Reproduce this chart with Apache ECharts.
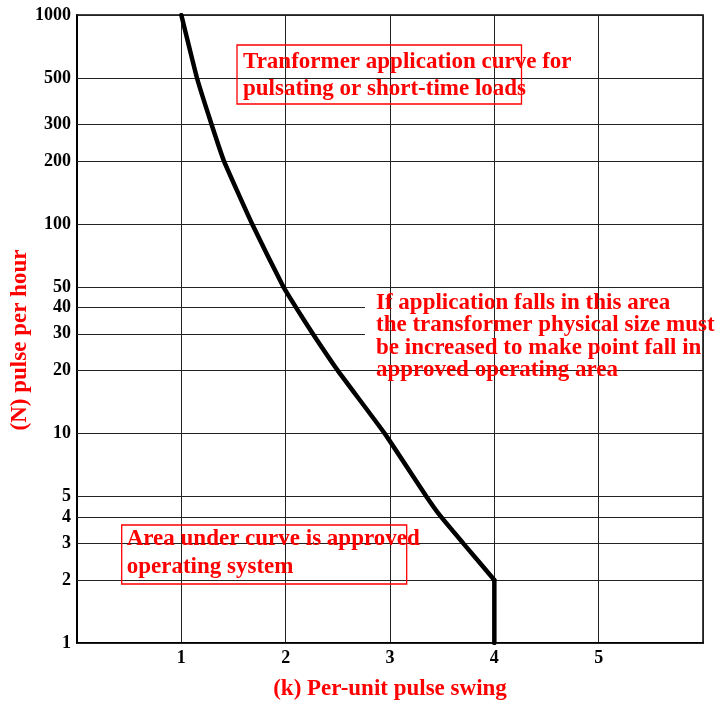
<!DOCTYPE html>
<html lang="en">
<head>
    <meta charset="UTF-8">
    <title>Transformer application curve</title>
    <script src="https://cdn.jsdelivr.net/npm/echarts/dist/echarts.min.js"></script>
    <style>
        body { margin: 0; background: #fff; }
        #chart { width: 717px; height: 702px; }
    </style>
</head>
<body>
    <div id="chart"></div>

    <script type="text/javascript">
        // curve: (k) per-unit swing vs (N) pulses per hour
        const pulseSwing    = [1.0, 1.15, 1.29, 1.41, 1.68, 1.98, 2.10, 2.26, 2.50, 2.95, 3.35, 3.49, 3.70, 4.0, 4.0];
        const pulsesPerHour = [1000, 500, 300, 200, 100, 50, 40, 30, 20, 10, 5, 4, 3, 2, 1];

        // horizontal grid values on the log axis
        const yTicks = [1, 2, 3, 4, 5, 10, 20, 30, 40, 50, 100, 200, 300, 500, 1000];
        // these two stop where the right-hand note begins
        const shortTicks = [30, 40];
        const shortTickEnd = 2.76;
        const xTickLabels = [1, 2, 3, 4, 5];

        const serif = '"Liberation Serif", "DejaVu Serif", serif';
        const red = '#ff0000';

        const chart = echarts.init(document.getElementById('chart'));

        const points = pulseSwing.map(function (k, i) { return [k, pulsesPerHour[i]]; });
        // the curve bends, then drops straight down at k = 4
        const bendEnd = pulsesPerHour.indexOf(2);

        // grid lines + their labels as markLines
        const gridLines = yTicks.map(function (v) {
            if (shortTicks.indexOf(v) >= 0) {
                return [{ coord: [0, v], name: String(v) }, { coord: [shortTickEnd, v] }];
            }
            return { yAxis: v, name: String(v) };
        });

        const noteStyle = {
            fill: red,
            font: 'bold 23px ' + serif
        };

        chart.setOption({
            animation: false,
            grid: {
                left: 77, right: 14, top: 15, bottom: 59,
                outerBoundsMode: 'none',
                show: true,
                borderColor: '#000',
                borderWidth: 1.5
            },
            xAxis: {
                type: 'value',
                min: 0,
                max: 6,
                interval: 1,
                name: '(k) Per-unit pulse swing',
                nameLocation: 'middle',
                nameGap: 35,
                nameTextStyle: { color: red, fontFamily: serif, fontWeight: 'bold', fontSize: 23 },
                axisLine: { lineStyle: { color: '#000', width: 2 } },
                axisTick: { show: false },
                axisLabel: {
                    margin: 6,
                    color: '#000',
                    fontFamily: serif,
                    fontWeight: 'bold',
                    fontSize: 18,
                    formatter: function (v) { return xTickLabels.indexOf(v) >= 0 ? String(v) : ''; }
                },
                splitLine: { show: true, lineStyle: { color: '#222', width: 1 } }
            },
            yAxis: {
                type: 'log',
                logBase: 10,
                min: 1,
                max: 1000,
                name: '(N) pulse per hour',
                nameLocation: 'middle',
                nameGap: 45,
                nameTextStyle: {
                    color: red, fontFamily: serif, fontWeight: 'bold', fontSize: 23,
                    padding: [0, 22, 0, 0]
                },
                axisLine: { show: true, lineStyle: { color: '#000', width: 2 } },
                axisTick: { show: false },
                axisLabel: { show: false },
                splitLine: { show: false }
            },
            graphic: [
                { type: 'rect', shape: { x: 237, y: 45, width: 284.5, height: 59 },
                  style: { fill: 'none', stroke: red, lineWidth: 1.3 }, z: 10 },
                { type: 'text', left: 243, top: 49, z: 11,
                  style: Object.assign({ text: 'Tranformer application curve for\npulsating or short-time loads', lineHeight: 27 }, noteStyle) },
                { type: 'text', left: 376, top: 291.5, z: 11,
                  style: Object.assign({ text: 'If application falls in this area\nthe transformer physical size must\nbe increased to make point fall in\napproved operating area', lineHeight: 22.5 }, noteStyle) },
                { type: 'rect', shape: { x: 121.7, y: 525, width: 285, height: 59 },
                  style: { fill: 'none', stroke: red, lineWidth: 1.3 }, z: 10 },
                { type: 'text', left: 126.7, top: 525.5, z: 11,
                  style: Object.assign({ text: 'Area under curve is approved\noperating system', lineHeight: 27.5 }, noteStyle) }
            ],
            series: [
                {
                    type: 'line',
                    data: points.slice(0, bendEnd + 1),
                    showSymbol: false,
                    smooth: 0.12,
                    lineStyle: { color: '#000', width: 4.5, cap: 'round', join: 'round' },
                    z: 5,
                    markLine: {
                        silent: true,
                        symbol: 'none',
                        animation: false,
                        lineStyle: { color: '#222', width: 1, type: 'solid' },
                        label: {
                            show: true,
                            position: 'start',
                            distance: 6,
                            color: '#000',
                            fontFamily: serif,
                            fontWeight: 'bold',
                            fontSize: 18,
                            formatter: function (p) { return p.name; }
                        },
                        data: gridLines
                    }
                },
                {
                    type: 'line',
                    data: points.slice(bendEnd),
                    showSymbol: false,
                    lineStyle: { color: '#000', width: 4.5, cap: 'round' },
                    z: 5
                }
            ]
        });
    </script>
</body>
</html>
